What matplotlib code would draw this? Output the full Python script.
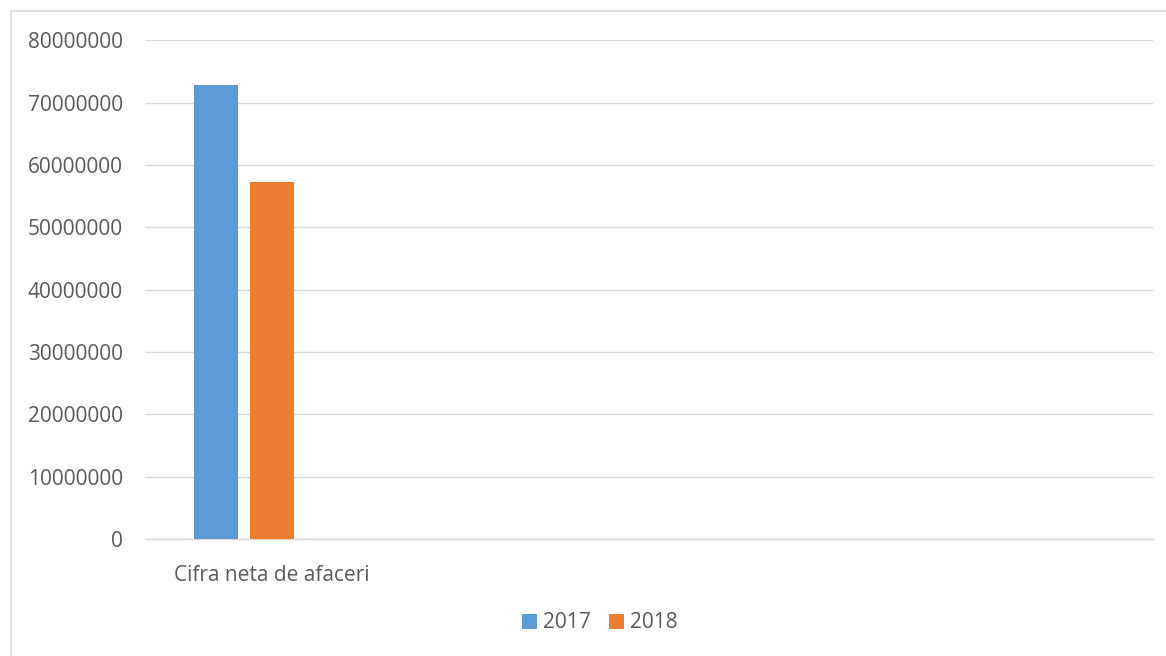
import matplotlib
matplotlib.use("Agg")
import matplotlib.pyplot as plt
from matplotlib.lines import Line2D
from matplotlib.patches import Patch

categories = ["Cifra neta de afaceri"]
series_names = ["2017", "2018"]
values_2017 = [72870000]
values_2018 = [57190000]
y_ticks = [0, 10000000, 20000000, 30000000, 40000000, 50000000, 60000000, 70000000, 80000000]

colors = ["#5B9BD5", "#ED7D31"]
text_color = "#595959"
grid_color = "#D9D9D9"

plt.rcParams['font.family'] = ['Open Sans', 'DejaVu Sans']

W, H = 1166, 656
fig = plt.figure(figsize=(W / 100, H / 100), dpi=100)
ax = fig.add_axes([145.3 / W, 1 - 539 / H, (1153 - 145.3) / W, (539 - 40.3) / H])

slot = 252.0
bw = 44 / slot
step = 56 / slot
xs = list(range(len(categories)))
ax.bar([x - step + 0.5 / slot for x in xs], values_2017, width=bw, color=colors[0], label=series_names[0], zorder=3)
ax.bar([x + 0.5 / slot for x in xs], values_2018, width=bw, color=colors[1], label=series_names[1], zorder=3)

ax.set_xlim(-0.5, 3.5)
ax.set_ylim(0, 80000000)
ax.set_yticks(y_ticks)
ax.set_yticklabels([str(v) for v in y_ticks])
ax.set_xticks(xs)
ax.set_xticklabels(categories)
ax.grid(axis='y', color=grid_color, linewidth=1.0, zorder=0)
ax.tick_params(axis='y', length=0, pad=16, labelsize=15, labelcolor=text_color)
ax.tick_params(axis='x', length=0, pad=19, labelsize=15, labelcolor=text_color)
for s in ['top', 'right', 'left']:
    ax.spines[s].set_visible(False)
ax.spines['bottom'].set_color(grid_color)
ax.spines['bottom'].set_linewidth(1.0)

handles = [Patch(facecolor=c, edgecolor='none') for c in colors]
fig.legend(handles, series_names, loc='center', bbox_to_anchor=(600 / W, 1 - 623 / H),
           ncol=2, frameon=False, fontsize=15, labelcolor=text_color,
           handlelength=0.7, handleheight=0.7, handletextpad=0.3, columnspacing=0.9)

# chart border (left and top visible)
fig.add_artist(Line2D([10.5 / W, 10.5 / W], [0, 1 - 11 / H], color=grid_color, linewidth=1.2, transform=fig.transFigure))
fig.add_artist(Line2D([10.5 / W, 1], [1 - 11 / H, 1 - 11 / H], color=grid_color, linewidth=1.2, transform=fig.transFigure))

fig.savefig("out.png", dpi=100)
